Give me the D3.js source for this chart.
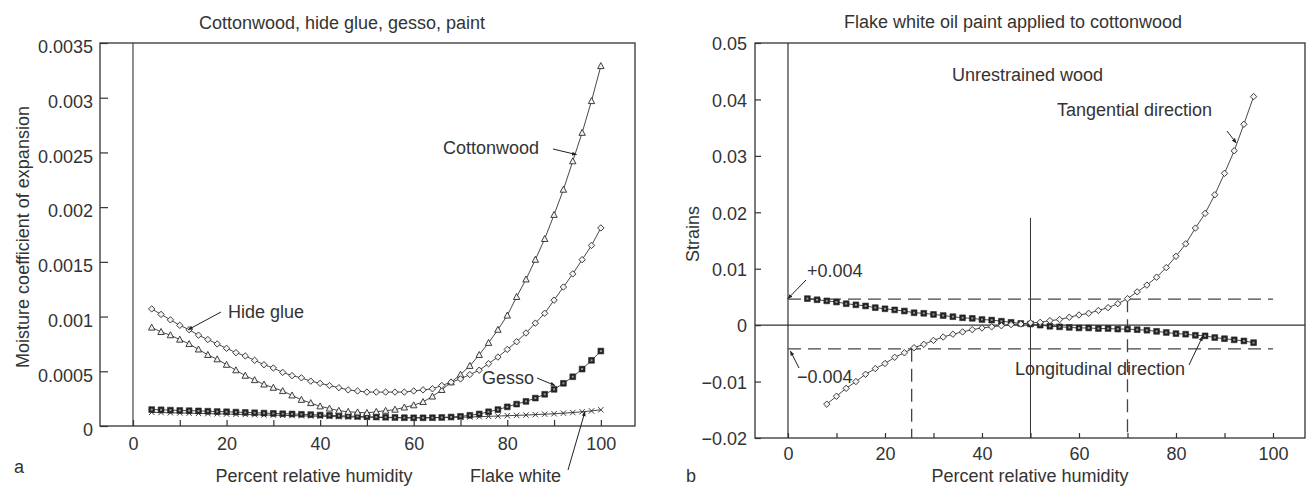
<!DOCTYPE html>
<html>
<head>
<meta charset="utf-8">
<script src="https://cdn.jsdelivr.net/npm/d3@7"></script>
<style>
  body { margin: 0; background: #fff; }
  text { font-family: "Liberation Sans", Arial, sans-serif; fill: #333; }
</style>
</head>
<body>
<script>
// ---- panel a: moisture coefficient of expansion vs RH ----
const humidityA = [4, 6, 8, 10, 12, 14, 16, 18, 20, 22, 24, 26, 28, 30, 32, 34, 36, 38, 40, 42, 44, 46, 48, 50,
  52, 54, 56, 58, 60, 62, 64, 66, 68, 70, 72, 74, 76, 78, 80, 82, 84, 86, 88, 90, 92, 94, 96, 98, 100];
const hideGlue = [0.00107, 0.00102, 0.00097, 0.00092, 0.00088, 0.00083, 0.00079, 0.00075, 0.00071, 0.00067,
  0.00064, 0.00060, 0.00056, 0.00053, 0.00049, 0.00046, 0.00044, 0.00041, 0.00039, 0.00037, 0.00035, 0.00033,
  0.00032, 0.00031, 0.00031, 0.00031, 0.00031, 0.00031, 0.00032, 0.00033, 0.00034, 0.00037, 0.00040, 0.00043,
  0.00047, 0.00051, 0.00057, 0.00063, 0.00070, 0.00077, 0.00085, 0.00094, 0.00103, 0.00115, 0.00127, 0.00139,
  0.00152, 0.00165, 0.00181];
const cottonwood = [0.00090, 0.00086, 0.00083, 0.00079, 0.00075, 0.00070, 0.00065, 0.00061, 0.00056, 0.00051,
  0.00046, 0.00042, 0.00038, 0.00035, 0.00032, 0.00028, 0.00024, 0.00021, 0.00018, 0.00016, 0.00014, 0.00013,
  0.000125, 0.00012, 0.00013, 0.00014, 0.00015, 0.00017, 0.00019, 0.00022, 0.00027, 0.00033, 0.00040, 0.00047,
  0.00055, 0.00065, 0.00076, 0.00088, 0.00101, 0.00118, 0.00134, 0.00152, 0.00171, 0.00193, 0.00216, 0.00242,
  0.00268, 0.00297, 0.00329];
const gesso = [0.000150, 0.000148, 0.000145, 0.000142, 0.000140, 0.000138, 0.000135, 0.000132, 0.000130,
  0.000127, 0.000124, 0.000121, 0.000118, 0.000115, 0.000112, 0.000110, 0.000107, 0.000104, 0.000100, 0.000097,
  0.000094, 0.000091, 0.000088, 0.000085, 0.000082, 0.000080, 0.000078, 0.000076, 0.000075, 0.000075, 0.000076,
  0.000078, 0.000082, 0.000088, 0.000098, 0.000110, 0.000130, 0.000150, 0.000175, 0.000200, 0.000225, 0.000255,
  0.000290, 0.000335, 0.000390, 0.000450, 0.000520, 0.000600, 0.000685];
const flakeWhite = [0.000125, 0.000123, 0.000121, 0.000119, 0.000117, 0.000115, 0.000113, 0.000111, 0.000109,
  0.000107, 0.000105, 0.000103, 0.000101, 0.000099, 0.000097, 0.000095, 0.000093, 0.000091, 0.000089, 0.000087,
  0.000085, 0.000083, 0.000081, 0.000080, 0.000078, 0.000077, 0.000076, 0.000075, 0.000075, 0.000075, 0.000076,
  0.000077, 0.000078, 0.000080, 0.000082, 0.000085, 0.000088, 0.000091, 0.000094, 0.000097, 0.000100, 0.000104,
  0.000108, 0.000112, 0.000117, 0.000123, 0.000130, 0.000138, 0.000148];
const yTicksA = [0, 0.0005, 0.001, 0.0015, 0.002, 0.0025, 0.003, 0.0035];
const yLabelsA = ['0', '0.0005', '0.001', '0.0015', '0.002', '0.0025', '0.003', '0.0035'];

// ---- panel b: strains of flake white on cottonwood ----
const humidityTan = [8, 10, 12, 14, 16, 18, 20, 22, 24, 26, 28, 30, 32, 34, 36, 38, 40, 42, 44, 46, 48, 50, 52,
  54, 56, 58, 60, 62, 64, 66, 68, 70, 72, 74, 76, 78, 80, 82, 84, 86, 88, 90, 92, 94, 96];
const tangential = [-0.0140, -0.0126, -0.0112, -0.0100, -0.0087, -0.0077, -0.0068, -0.0057, -0.0049, -0.0040,
  -0.0034, -0.0027, -0.0021, -0.0016, -0.0012, -0.0008, -0.0005, -0.0003, -0.0001, 0.0001, 0.0002, 0.0004,
  0.0005, 0.0008, 0.0010, 0.0014, 0.0018, 0.0021, 0.0026, 0.0031, 0.0038, 0.0047, 0.0059, 0.0071, 0.0085,
  0.0102, 0.0122, 0.0144, 0.0172, 0.0198, 0.0231, 0.0269, 0.0309, 0.0356, 0.0405];
const humidityLong = [4, 6, 8, 10, 12, 14, 16, 18, 20, 22, 24, 26, 28, 30, 32, 34, 36, 38, 40, 42, 44, 46, 48,
  50, 52, 54, 56, 58, 60, 62, 64, 66, 68, 70, 72, 74, 76, 78, 80, 82, 84, 86, 88, 90, 92, 94, 96];
const longitudinal = [0.0047, 0.0045, 0.0043, 0.0041, 0.0038, 0.0036, 0.0034, 0.0031, 0.0029, 0.0027, 0.0025,
  0.0022, 0.0021, 0.0019, 0.0017, 0.0015, 0.0013, 0.0012, 0.0010, 0.0009, 0.0007, 0.0005, 0.0003, 0.0002,
  0.0000, -0.0002, -0.0003, -0.0004, -0.0005, -0.0005, -0.0006, -0.0006, -0.0007, -0.0007, -0.0008, -0.0009,
  -0.0011, -0.0013, -0.0015, -0.0016, -0.0018, -0.0019, -0.0022, -0.0024, -0.0026, -0.0028, -0.0031];
const yTicksB = [-0.02, -0.01, 0, 0.01, 0.02, 0.03, 0.04, 0.05];
const yLabelsB = ['\u22120.02', '\u22120.01', '0', '0.01', '0.02', '0.03', '0.04', '0.05'];
const strainBands = [0.0046, -0.0042];   // dashed +/-0.004 limits
const crossings = [25.5, 70];            // RH where tangential strain hits the limits
const xTicks = [0, 10, 20, 30, 40, 50, 60, 70, 80, 90, 100];

const svg = d3.select('body').append('svg')
  .attr('width', 1308)
  .attr('height', 486);

svg.append('defs').append('marker')
  .attr('id', 'arrow')
  .attr('viewBox', '0 0 10 10')
  .attr('refX', 9).attr('refY', 5)
  .attr('markerWidth', 5).attr('markerHeight', 5)
  .attr('orient', 'auto')
  .append('path').attr('d', 'M0,1L10,5L0,9z').attr('fill', '#222');

const glyph = {
  diamond: 'M0,-3.2L3.2,0L0,3.2L-3.2,0Z',
  triangle: 'M0,-3.4L3.2,2.6L-3.2,2.6Z',
  square: 'M-2.9,-2.9H2.9V2.9H-2.9Z',
  cross: 'M-2.7,-2.7L2.7,2.7M-2.7,2.7L2.7,-2.7'
};

function drawSeries(g, x, y, xs, ys, shape) {
  let pts = xs.map((d, i) => [d, ys[i]]);
  g.append('path').datum(pts)
    .attr('fill', 'none')
    .attr('stroke', '#333')
    .attr('stroke-width', 0.9)
    .attr('d', d3.line().x(d => x(d[0])).y(d => y(d[1])));
  g.selectAll(null).data(pts).join('path')
    .attr('transform', d => 'translate(' + x(d[0]) + ',' + y(d[1]) + ')')
    .attr('d', glyph[shape])
    .attr('fill', shape === 'square' ? '#222' : (shape === 'cross' ? 'none' : '#f2f2f2'))
    .attr('stroke', '#2a2a2a')
    .attr('stroke-width', shape === 'square' ? 0.6 : 0.9);
  if (shape === 'square') {
    g.selectAll(null).data(pts).join('rect')
      .attr('x', d => x(d[0]) - 1).attr('y', d => y(d[1]) - 1)
      .attr('width', 2).attr('height', 2)
      .attr('fill', '#999');
  }
}

function leader(g, x1, y1, x2, y2) {
  g.append('line')
    .attr('x1', x1).attr('y1', y1).attr('x2', x2).attr('y2', y2)
    .attr('stroke', '#222').attr('stroke-width', 1)
    .attr('marker-end', 'url(#arrow)');
}

function label(g, txt, x, y, anchor) {
  g.append('text').attr('x', x).attr('y', y)
    .attr('text-anchor', anchor || 'start')
    .style('font-size', '18px')
    .text(txt);
}

function frame(g, left, top, right, bottom) {
  g.append('rect')
    .attr('x', left).attr('y', top)
    .attr('width', right - left).attr('height', bottom - top)
    .attr('fill', 'none').attr('stroke', '#333').attr('stroke-width', 1.3);
}

function styleAxis(sel) {
  sel.select('.domain').remove();
  sel.selectAll('line').attr('stroke', '#333').attr('stroke-width', 1.2);
  sel.selectAll('text').style('font-size', '18px').attr('fill', '#333')
    .style('font-family', '"Liberation Sans", Arial, sans-serif');
}

// ================= panel a =================
let ga = svg.append('g');
let xA = d3.scaleLinear().domain([-7.05, 107.3]).range([100, 635]);
let yA = d3.scaleLinear().domain([0, 0.0035]).range([426, 43]);

frame(ga, xA.range()[0], yA.range()[1], xA.range()[1], yA.range()[0]);

ga.append('g')
  .attr('transform', 'translate(' + xA.range()[0] + ',0)')
  .call(d3.axisLeft(yA).tickValues(yTicksA).tickSize(-8).tickPadding(7)
    .tickFormat((d, i) => yLabelsA[i]))
  .call(styleAxis)
  .call(s => s.selectAll('text').attr('transform', 'translate(0,4)'));

ga.append('g')
  .attr('transform', 'translate(0,' + yA.range()[0] + ')')
  .call(d3.axisBottom(xA).tickValues(xTicks).tickSize(-6).tickPadding(11)
    .tickFormat(d => d % 20 === 0 ? d : ''))
  .call(styleAxis);

// vertical line at 0 % RH
ga.append('line')
  .attr('x1', xA(0)).attr('x2', xA(0))
  .attr('y1', yA.range()[1]).attr('y2', yA.range()[0])
  .attr('stroke', '#333').attr('stroke-width', 1.1);

drawSeries(ga, xA, yA, humidityA, flakeWhite, 'cross');
drawSeries(ga, xA, yA, humidityA, gesso, 'square');
drawSeries(ga, xA, yA, humidityA, cottonwood, 'triangle');
drawSeries(ga, xA, yA, humidityA, hideGlue, 'diamond');

label(ga, 'Cottonwood, hide glue, gesso, paint', 342, 29, 'middle');
ga.append('text')
  .attr('transform', 'translate(29,237) rotate(-90)')
  .attr('text-anchor', 'middle')
  .style('font-size', '18px')
  .text('Moisture coefficient of expansion');
label(ga, 'Percent relative humidity', 314, 482, 'middle');
label(ga, 'a', 14, 473);

label(ga, 'Hide glue', 228, 318);
leader(ga, 221, 312, xA(11.8), yA(0.00088));
label(ga, 'Cottonwood', 443, 154);
leader(ga, 553, 149, xA(94.8), yA(0.00248));
label(ga, 'Gesso', 482, 384);
leader(ga, 537, 378, xA(90.2), yA(0.00037));
label(ga, 'Flake white', 470, 482);
leader(ga, 568, 470, xA(96.6), yA(0.00013));

// ================= panel b =================
let gb = svg.append('g');
let xB = d3.scaleLinear().domain([-6.8, 106.6]).range([755, 1305]);
let yB = d3.scaleLinear().domain([-0.02, 0.05]).range([438, 43]);

frame(gb, xB.range()[0], yB.range()[1], xB.range()[1], yB.range()[0]);

gb.append('g')
  .attr('transform', 'translate(' + xB.range()[0] + ',0)')
  .call(d3.axisLeft(yB).tickValues(yTicksB).tickSize(-6).tickPadding(8)
    .tickFormat((d, i) => yLabelsB[i]))
  .call(styleAxis)
  .call(s => s.selectAll('text').attr('transform', 'translate(0,1)'));

gb.append('g')
  .attr('transform', 'translate(0,' + yB.range()[0] + ')')
  .call(d3.axisBottom(xB).tickValues(xTicks).tickSize(-5).tickPadding(9)
    .tickFormat(d => d % 20 === 0 ? d : ''))
  .call(styleAxis);

// reference lines
gb.append('line')
  .attr('x1', xB(0)).attr('x2', xB(0))
  .attr('y1', yB.range()[1]).attr('y2', yB.range()[0])
  .attr('stroke', '#333').attr('stroke-width', 1.2);
gb.append('line')
  .attr('x1', xB.range()[0]).attr('x2', xB.range()[1])
  .attr('y1', yB(0)).attr('y2', yB(0))
  .attr('stroke', '#333').attr('stroke-width', 1.2);
gb.append('line')
  .attr('x1', xB(50)).attr('x2', xB(50))
  .attr('y1', yB(0.019)).attr('y2', yB.range()[0])
  .attr('stroke', '#333').attr('stroke-width', 1);

gb.selectAll(null).data(strainBands).join('line')
  .attr('x1', xB(0)).attr('x2', xB(100))
  .attr('y1', d => yB(d)).attr('y2', d => yB(d))
  .attr('stroke', '#444').attr('stroke-width', 1.3)
  .attr('stroke-dasharray', '13,7');
gb.selectAll(null).data(crossings).join('line')
  .attr('x1', d => xB(d)).attr('x2', d => xB(d))
  .attr('y1', (d, i) => yB(strainBands[1 - i])).attr('y2', yB.range()[0])
  .attr('stroke', '#444').attr('stroke-width', 1.3)
  .attr('stroke-dasharray', '13,7');

drawSeries(gb, xB, yB, humidityLong, longitudinal, 'square');
drawSeries(gb, xB, yB, humidityTan, tangential, 'diamond');

label(gb, 'Flake white oil paint applied to cottonwood', 1013, 28, 'middle');
gb.append('text')
  .attr('transform', 'translate(699,234) rotate(-90)')
  .attr('text-anchor', 'middle')
  .style('font-size', '18px')
  .text('Strains');
label(gb, 'Percent relative humidity', 1030, 482, 'middle');
label(gb, 'b', 686, 482);

label(gb, 'Unrestrained wood', 952, 81);
label(gb, 'Tangential direction', 1057, 116);
leader(gb, 1227, 131, xB(92.4), yB(0.0323));
label(gb, '+0.004', 807, 277);
leader(gb, 806, 280, xB(0), yB(0.0047));
label(gb, '\u22120.004', 797, 383);
leader(gb, 799, 368, xB(0.5), yB(-0.0046));
label(gb, 'Longitudinal direction', 1015, 375);
leader(gb, 1189, 365, xB(85.5), yB(-0.002));
</script>
</body>
</html>
